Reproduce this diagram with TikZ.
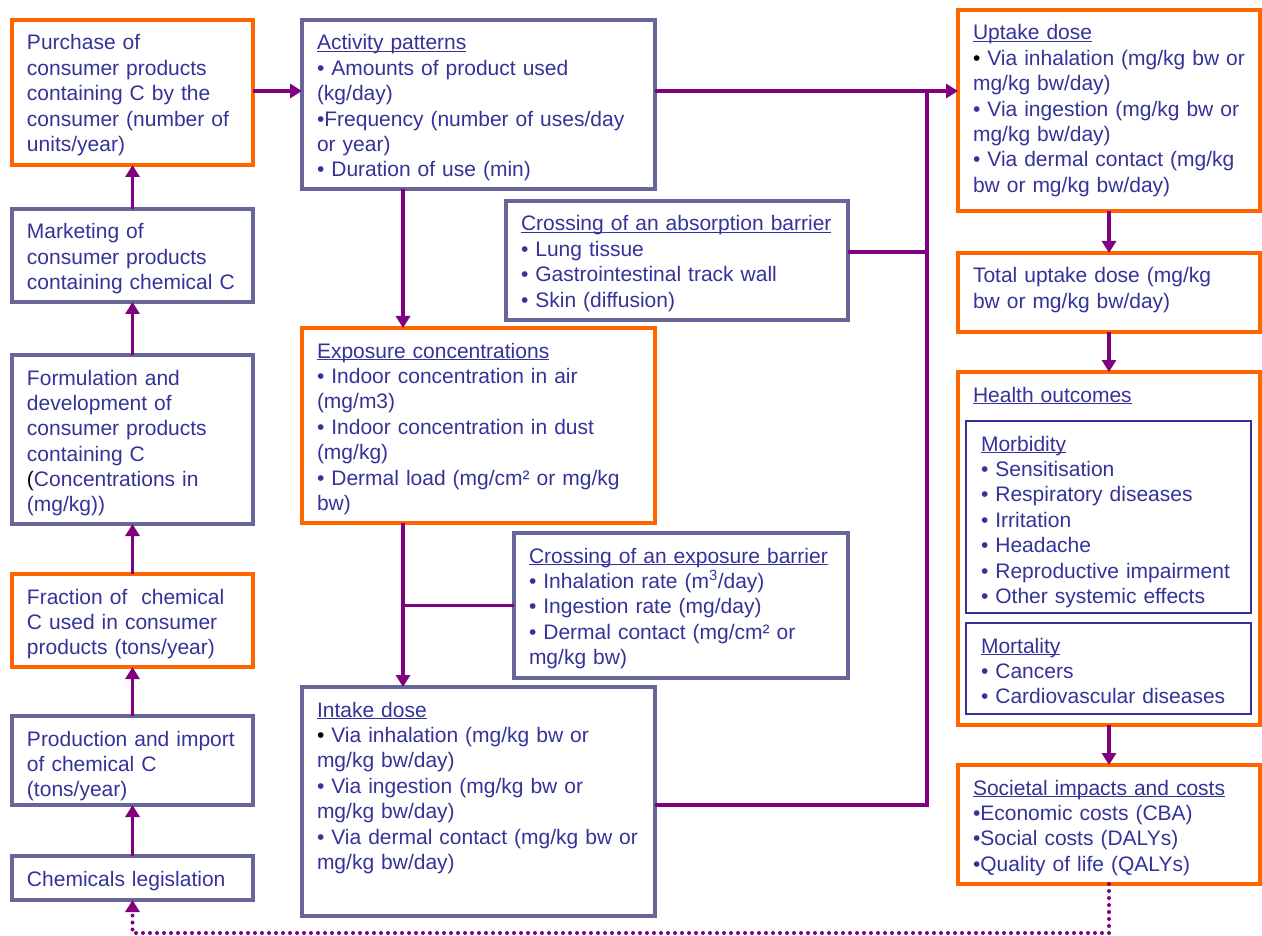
\documentclass[tikz,border=0pt]{standalone}
\usepackage{fontspec}
\setmainfont{Liberation Sans}
\usetikzlibrary{arrows.meta}
\definecolor{tblue}{HTML}{333399}
\definecolor{gborder}{HTML}{666699}
\definecolor{orng}{HTML}{FF6600}
\definecolor{purp}{HTML}{800080}
\newcommand\ul[1]{\setbox0\hbox{#1}\rlap{\rule[-2.4pt]{\wd0}{1.3pt}}\box0}
\newcommand\bk{{\color{black}•}}
\newcommand\bx[7]{%
 \pgfmathsetmacro\bw{#4-#2}\pgfmathsetmacro\bh{#5-#3}\pgfmathsetmacro\tw{#4-#2-8}%
 \node[#6, anchor=north west, minimum width=\bw pt, minimum height=\bh pt] (#1) at (#2,#3) {};
 \node[txt, text width=\tw pt] (#1-t) at (#2+15,#3+30) {#7};
}
\begin{document}
\begin{tikzpicture}[x=1pt,y=-1pt,
  gbox/.style={draw=gborder, line width=3.4pt, fill=white, inner sep=0pt, outer sep=0pt, rectangle},
  obox/.style={draw=orng, line width=3.6pt, fill=white, inner sep=0pt, outer sep=0pt, rectangle},
  ibox/.style={draw=tblue, line width=2pt, fill=white, inner sep=0pt, outer sep=0pt, rectangle},
  txt/.style={anchor=base west, inner sep=0pt, outer sep=0pt, align=left, text=tblue, font={\fontsize{21}{25.4}\selectfont}},
  conn/.style={draw=purp, line width=3.6pt},
  arr/.style={conn, -{Triangle[length=12pt,width=14pt]}},
  dotline/.style={draw=purp, line width=4pt, line cap=round, dash pattern=on 0pt off 7pt, -{Triangle[length=12pt,width=14pt]}}
]
\useasboundingbox (0,0) rectangle (1262,936);
% left column
\bx{purchase}{12}{20}{253}{165}{obox}{Purchase of\\consumer products\\containing C by the\\consumer (number of\\units/year)}
\bx{marketing}{12}{209}{253}{302}{gbox}{Marketing of\\consumer products\\containing chemical C}
\bx{formul}{12}{355}{253}{524}{gbox}{Formulation and\\development of\\consumer products\\containing C\\{\color{black}(}Concentrations in\\(mg/kg))}
\bx{fraction}{12}{574}{253}{667}{obox}{Fraction of\ \ chemical\\C used in consumer\\products (tons/year)}
\bx{production}{12}{716}{253}{805}{gbox}{Production and import\\of chemical C\\(tons/year)}
\bx{legis}{12}{856}{253}{900}{gbox}{Chemicals legislation}
% middle column
\bx{activity}{302}{20}{655}{189}{gbox}{\ul{Activity patterns}\\• Amounts of product used\\(kg/day)\\•Frequency (number of uses/day\\or year)\\• Duration of use (min)}
\bx{absorb}{506}{201}{848}{320}{gbox}{\ul{Crossing of an absorption barrier}\\• Lung tissue\\• Gastrointestinal track wall\\• Skin (diffusion)}
\bx{exposure}{302}{328}{655}{523}{obox}{\ul{Exposure concentrations}\\• Indoor concentration in air\\(mg/m3)\\• Indoor concentration in dust\\(mg/kg)\\• Dermal load (mg/cm² or mg/kg\\bw)}
\bx{barrier}{514}{533}{848}{678}{gbox}{\ul{Crossing of an exposure barrier}\\• Inhalation rate (m\textsuperscript{3}/day)\\• Ingestion rate (mg/day)\\• Dermal contact (mg/cm² or\\mg/kg bw)}
\bx{intake}{302}{687}{655}{916}{gbox}{\ul{Intake dose}\\\bk{} Via inhalation (mg/kg bw or\\mg/kg bw/day)\\• Via ingestion (mg/kg bw or\\mg/kg bw/day)\\• Via dermal contact (mg/kg bw or\\mg/kg bw/day)}
% right column
\bx{uptake}{958}{10}{1260}{211}{obox}{\ul{Uptake dose}\\\bk{} Via inhalation (mg/kg bw or\\mg/kg bw/day)\\• Via ingestion (mg/kg bw or\\mg/kg bw/day)\\• Via dermal contact (mg/kg\\bw or mg/kg bw/day)}
\bx{total}{958}{253}{1260}{332}{obox}{Total uptake dose (mg/kg\\bw or mg/kg bw/day)}
\bx{health}{958}{372}{1260}{725}{obox}{\ul{Health outcomes}}
\bx{morbid}{966}{421}{1251}{613}{ibox}{\ul{Morbidity}\\• Sensitisation\\• Respiratory diseases\\• Irritation\\• Headache\\• Reproductive impairment\\• Other systemic effects}
\bx{mortal}{966}{623}{1251}{714}{ibox}{\ul{Mortality}\\• Cancers\\• Cardiovascular diseases}
\bx{societal}{958}{765}{1260}{884}{obox}{\ul{Societal impacts and costs}\\•Economic costs (CBA)\\•Social costs (DALYs)\\•Quality of life (QALYs)}
% helper coordinates
\coordinate (cx) at (403,0);
\coordinate (jt) at (927,91);
% left column arrows
\draw[arr] (legis.north) -- (production.south);
\draw[arr] (production.north) -- (fraction.south);
\draw[arr] (fraction.north) -- (formul.south);
\draw[arr] (formul.north) -- (marketing.south);
\draw[arr] (marketing.north) -- (purchase.south);
\draw[arr] ([yshift=1.5pt]purchase.east) -- ([yshift=1.5pt]purchase.east -| activity.west);
% middle
\draw[arr] (activity.south -| cx) -- (exposure.north -| cx);
\draw[arr] (exposure.south -| cx) -- (intake.north -| cx);
\draw[conn] (barrier.west) -- (barrier.west -| cx);
% to uptake
\draw[arr] (activity.east |- jt) -- (uptake.west |- jt);
\draw[conn] ([yshift=-3.5pt]intake.east) -| (jt);
\draw[conn] ([yshift=8.5pt]absorb.east) -- ([yshift=8.5pt]absorb.east -| jt);
% right column
\draw[arr] (uptake.south) -- (total.north);
\draw[arr] (total.south) -- (health.north);
\draw[arr] (health.south) -- (societal.south |- societal.north);
% feedback
\draw[dotline] (societal.south) -- ++(0,49) -| (legis.south);
\end{tikzpicture}
\end{document}
